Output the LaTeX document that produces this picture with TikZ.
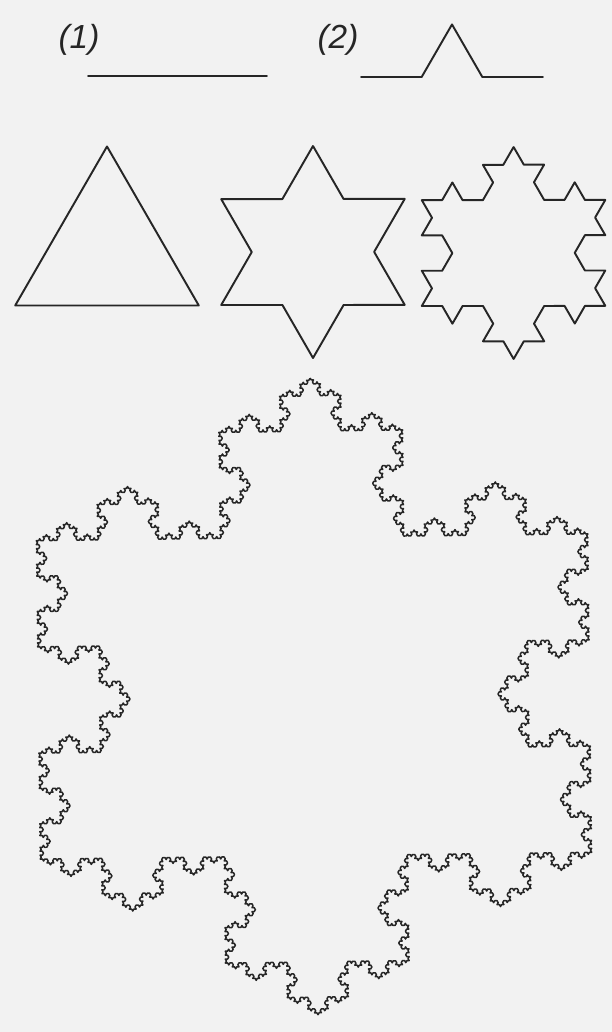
\documentclass[tikz,border=0pt]{standalone}
\usepackage{fontspec}
\setmainfont{Liberation Sans}
\usetikzlibrary{decorations.fractals}
\tikzset{
  kochline/.style={line width=1.1pt,draw=black!85,line join=round,line cap=round},
  kochbig/.style={line width=0.85pt,draw=black!85,line join=round},
  steplabel/.style={font=\fontsize{19}{21}\selectfont\itshape,inner sep=0pt,text=black!85}
}
\begin{document}
\begin{tikzpicture}[x=0.02cm,y=0.02cm,decoration=Koch snowflake]
  \fill[black!5] (0,0) rectangle (612,1032);
  \useasboundingbox (0,0) rectangle (612,1032);
  %% the two generators
  \node[steplabel] (lblA) at (79,992) {(1)};
  \node[steplabel] (lblB) at (338,992) {(2)};
  \coordinate (genA1) at (88,956);
  \coordinate (genA2) at (267,956);
  \coordinate (genB1) at (361,955);
  \coordinate (genB2) at (543,955);
  \draw[kochline] (genA1) -- (genA2);
  \draw[kochline] decorate{(genB1) -- (genB2)};
  %% stages 0, 1 and 2
  \draw[kochline,shift={(107,779.5)}] (90:106) -- (-30:106) -- (210:106) -- cycle;
  \draw[kochline,shift={(313,780)}] decorate{(90:106) -- (-30:106) -- (210:106) -- cycle};
  \draw[kochline,shift={(513.6,779)}] decorate{decorate{(90:106) -- (-30:106) -- (210:106) -- cycle}};
  %% the big one
  \draw[kochbig,shift={(314,335.5)},rotate=0.7]
    decorate{decorate{decorate{decorate{decorate{(90:318.5) -- (-30:318.5) -- (210:318.5) -- cycle}}}}};
\end{tikzpicture}
\end{document}
